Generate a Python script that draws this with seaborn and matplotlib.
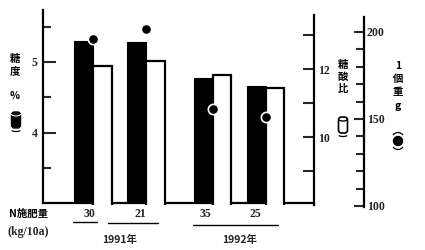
import numpy as np
import pandas as pd
import matplotlib
matplotlib.use("Agg")
import matplotlib.pyplot as plt
import seaborn as sns
from matplotlib.patches import FancyBboxPatch, Ellipse, Arc, Circle
from matplotlib.lines import Line2D
from matplotlib.ticker import MultipleLocator, FixedLocator

# ---- data ----
years = ["1991年", "1991年", "1992年", "1992年"]
n_rates = ["30", "21", "35", "25"]
group_pos = [0.0, 1.0, 2.26, 3.26]
sugar = [5.30, 5.29, 4.77, 4.66]        # 糖度 %
ratio = [12.09, 12.24, 11.82, 11.43]    # 糖酸比
weight = [196, 202, 156, 151]           # 1個重 g

sns.set_theme(style="white")
plt.rcParams['font.family'] = ['Noto Sans CJK JP', 'DejaVu Sans']

W, H = 425, 250
fig = plt.figure(figsize=(4.25, 2.5), dpi=100)
fig.patch.set_facecolor("white")

def fx(x):
    return x / W

def fy(y):
    return 1 - y / H

def u(px):
    return (px - 93) / 53.0

bw = 0.35
df = pd.DataFrame({"pos": group_pos, "sugar": sugar, "ratio": ratio,
                   "weight": weight, "n": n_rates, "year": years})
df["pos_b"] = df["pos"] - bw / 2
df["pos_w"] = df["pos"] + bw / 2

# main axis (sugar)
ax1 = fig.add_axes([fx(43), fy(203), fx(314) - fx(43), (203 - 10) / H])
# ratio axis
ax2 = fig.add_axes([fx(43), fy(205), fx(314) - fx(43), (205 - 15) / H])
# weight axis
ax3 = fig.add_axes([fx(43), fy(207), fx(364) - fx(43), (207 - 17) / H])
for a in (ax2, ax3):
    a.patch.set_visible(False)

sns.barplot(data=df, x="pos_b", y="sugar", native_scale=True, width=bw,
            color="black", saturation=1, errorbar=None, ax=ax1,
            edgecolor="black", linewidth=0.8)
sns.barplot(data=df, x="pos_w", y="ratio", native_scale=True, width=bw,
            color="white", saturation=1, errorbar=None, ax=ax2,
            edgecolor="black", linewidth=1.6)
sns.scatterplot(data=df, x="pos", y="weight", ax=ax3, color="black",
                s=55, edgecolor="white", linewidth=1.2, zorder=5)

ax1.set_xlim(u(43), u(314))
ax2.set_xlim(u(43), u(314))
ax3.set_xlim(u(43), u(364))
ax1.set_ylim(3, 5 + 52 / 70.5)
ax2.set_ylim(8, 12 + 54 / 34.0)
ax3.set_ylim(100 - 1 / 1.74, 200 + 15 / 1.74)

for a in (ax1, ax2, ax3):
    a.set_xlabel("")
    a.set_ylabel("")
    a.set_xticks([])
    for s in a.spines.values():
        s.set_visible(False)
        s.set_linewidth(1.6)
        s.set_color("black")

ax1.spines["left"].set_visible(True)
ax1.spines["bottom"].set_visible(True)
ax2.spines["right"].set_visible(True)
ax3.spines["right"].set_visible(True)

tick_font = dict(family="Liberation Serif", weight="bold", size=8.5)

# left axis
ax1.yaxis.set_major_locator(FixedLocator([4, 5]))
ax1.yaxis.set_minor_locator(FixedLocator([3.5, 4.5, 5.5]))
ax1.tick_params(axis="y", which="major", direction="in", length=9, width=1.5,
                pad=4, left=True, right=False, labelleft=True)
ax1.tick_params(axis="y", which="minor", direction="in", length=6, width=1.5,
                left=True, right=False)
ax1.set_yticklabels(["4", "5"], fontdict=tick_font)

# ratio axis
ax2.yaxis.tick_right()
ax2.yaxis.set_major_locator(FixedLocator([10, 12]))
ax2.yaxis.set_minor_locator(FixedLocator([9, 11, 13]))
ax2.tick_params(axis="y", which="major", direction="in", length=8, width=1.5,
                pad=3, left=False, right=True, labelleft=False, labelright=True)
ax2.tick_params(axis="y", which="minor", direction="in", length=8, width=1.5,
                left=False, right=True)
ax2.set_yticklabels(["10", "12"], fontdict=tick_font)

# weight axis
ax3.yaxis.tick_right()
ax3.yaxis.set_major_locator(FixedLocator([100, 150, 200]))
ax3.yaxis.set_minor_locator(FixedLocator([110, 120, 130, 140, 160, 170, 180, 190]))
ax3.tick_params(axis="y", which="major", direction="in", length=7, width=1.5,
                pad=2, left=False, right=True, labelleft=False, labelright=True)
ax3.tick_params(axis="y", which="minor", direction="in", length=6, width=1.5,
                left=False, right=True)
ax3.set_yticklabels(["100", "150", "200"], fontdict=tick_font)

# ---- axis titles (vertical stacked characters) ----
cjk = dict(family=['Noto Sans CJK JP', 'DejaVu Sans'], weight="bold",
           size=7.5, ha="center", va="center", color="black")
for ch, y in [("糖", 59), ("度", 71), ("%", 96)]:
    fig.text(fx(15), fy(y), ch, **cjk)
for ch, y in [("糖", 65), ("酸", 77), ("比", 89)]:
    fig.text(fx(343), fy(y), ch, **cjk)
for ch, y in [("1", 66), ("個", 79), ("重", 92), ("g", 106)]:
    fig.text(fx(398), fy(y), ch, **cjk)

# ---- legend icons ----
T = fig.dpi_scale_trans

def P(x, y):
    return (x / 100.0, (H - y) / 100.0)

# filled cylinder
cx, cy = 16, 120
fig.patches.append(FancyBboxPatch(P(cx - 4.5, cy + 8), 0.09, 0.16,
                                  boxstyle="round,pad=0,rounding_size=0.03",
                                  fc="black", ec="black", lw=1, transform=T))
fig.patches.append(Arc(P(cx, cy - 6), 0.09, 0.04, theta1=180, theta2=360,
                       color="white", lw=0.8, transform=T))
fig.patches.append(Arc(P(cx, cy + 9), 0.11, 0.05, theta1=200, theta2=340,
                       color="black", lw=0.9, transform=T))
# open cylinder
cx, cy = 343, 125
fig.patches.append(FancyBboxPatch(P(cx - 4.5, cy + 8), 0.09, 0.16,
                                  boxstyle="round,pad=0,rounding_size=0.03",
                                  fc="white", ec="black", lw=1.2, transform=T))
fig.patches.append(Arc(P(cx, cy - 6), 0.09, 0.04, theta1=180, theta2=360,
                       color="black", lw=1.0, transform=T))
fig.patches.append(Arc(P(cx, cy + 9), 0.11, 0.05, theta1=200, theta2=340,
                       color="black", lw=0.9, transform=T))
# filled circle with arcs
cx, cy = 398, 141
fig.patches.append(Circle(P(cx, cy), 0.045, fc="black", ec="black", transform=T))
fig.patches.append(Arc(P(cx, cy), 0.14, 0.17, theta1=50, theta2=130,
                       color="black", lw=0.9, transform=T))
fig.patches.append(Arc(P(cx, cy), 0.14, 0.17, theta1=230, theta2=310,
                       color="black", lw=0.9, transform=T))

# ---- bottom annotations ----
fig.text(fx(28), fy(214), "N施肥量", **cjk)
fig.text(fx(28), fy(232), "(kg/10a)", family="Liberation Serif", weight="bold",
         size=8.5, ha="center", va="center")
num_font = dict(family="Liberation Serif", weight="bold", size=8.5,
                ha="center", va="center")
for lab, xpx in zip(n_rates, [89, 140, 205, 255]):
    fig.text(fx(xpx), fy(214), lab, **num_font)

for (x0, x1, yy) in [(73, 97, 222), (108, 158, 223), (193, 278, 225)]:
    fig.add_artist(Line2D([fx(x0), fx(x1)], [fy(yy), fy(yy)],
                          transform=fig.transFigure, color="black", lw=1.0))

yr_font = dict(family=['Noto Sans CJK JP', 'DejaVu Sans'], weight="bold",
               size=7.5, ha="center", va="center")
fig.text(fx(120), fy(240), "1991年", **yr_font)
fig.text(fx(240), fy(240), "1992年", **yr_font)

fig.savefig("out.png", dpi=100, facecolor="white")
